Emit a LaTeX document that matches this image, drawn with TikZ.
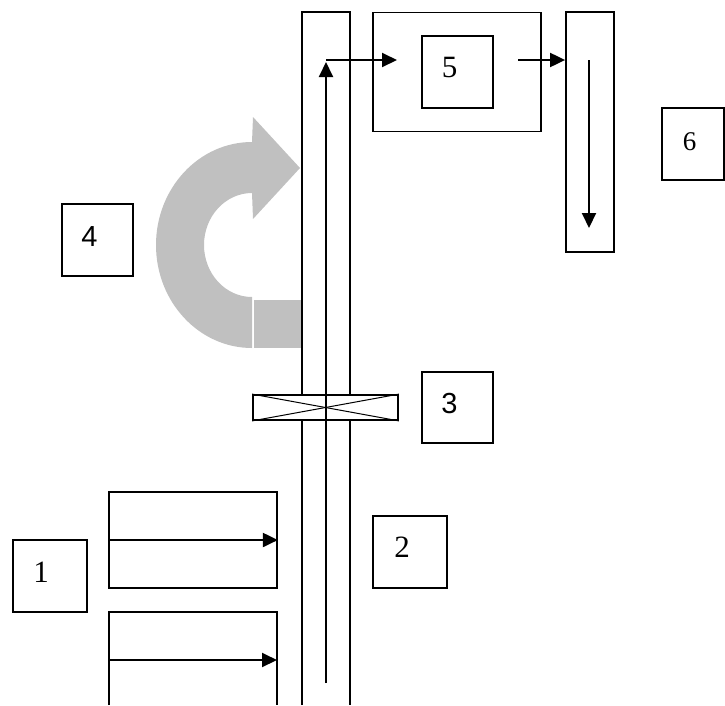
\documentclass[tikz,border=0pt]{standalone}
\usepackage{fontspec}
\setmainfont{Liberation Serif}
\newfontfamily\arialfont{Liberation Sans}
\usetikzlibrary{arrows.meta}
\definecolor{flowgray}{HTML}{C0C0C0}
\begin{document}
\begin{tikzpicture}[x=1pt, y=-1pt,
  line width=1.8pt,
  box/.style={draw, rectangle, inner sep=0pt, minimum width=#1},
  box/.default=72pt,
  lbl/.style={anchor=base, inner sep=0pt, font=\fontsize{31}{31}\selectfont},
  lblsans/.style={anchor=base, inner sep=0pt, font=\arialfont\fontsize{29}{29}\selectfont},
  arr/.style={line width=2pt, -{Triangle[length=15pt,width=14pt]}},
]
\useasboundingbox (0,0) rectangle (725,705);

% gray bent arrow feeding the pipe
\fill[flowgray] (252,348) arc[start angle=90, end angle=270, x radius=96, y radius=103]
  -- (253,117) -- (300,168) -- (253,219) -- (252,193)
  arc[start angle=270, end angle=90, x radius=48, y radius=52] -- cycle;
\fill[flowgray] (254,300) rectangle (302,348);

% main vertical pipe (open at the bottom)
\draw (302,705) -- (302,12) -- (350,12) -- (350,705);

% valve across the pipe
\node[draw, fill=white, inner sep=0pt, minimum width=145pt, minimum height=25pt] (valve) at (325.5,407.5) {};
\draw[line width=1pt] (valve.north west) -- (valve.south east);
\draw[line width=1pt] (valve.south west) -- (valve.north east);

% unit 5 and the downstream column
\node[box, minimum width=168pt, minimum height=119pt] (unit5) at (457,72) {};
\node[box, minimum width=71pt, minimum height=72pt] (b5) at (457.5,72) {};
\node[lbl] (l5) at (449.5,77) {5};
\node[box, minimum width=48pt, minimum height=240pt] (col6) at (590,132) {};

% feed channels on the left
\node[box, minimum width=168pt, minimum height=96pt] (feedA) at (193,540) {};
\draw (109,705) -- (109,612) -- (277,612) -- (277,705);
\coordinate (feedBin) at (109,660);
\coordinate (feedBout) at (277,660);

% numbered label boxes
\node[box=74pt, minimum height=72pt] (b1) at (50,576) {};
\node[lbl] (l1) at (41,582) {1};
\node[box=74pt, minimum height=72pt] (b2) at (410,552) {};
\node[lbl] (l2) at (402,557) {2};
\node[box=71pt, minimum height=71pt] (b3) at (457.5,407.5) {};
\node[lblsans] (l3) at (449.5,413) {3};
\node[box=71pt, minimum height=72pt] (b4) at (97.5,240) {};
\node[lblsans] (l4) at (89.5,246) {4};
\node[box=62pt, minimum height=72pt] (b6) at (693,144) {};
\node[lbl, font=\fontsize{27}{27}\selectfont] (l6) at (689.5,150) {6};

% flow arrows
\coordinate (pipeIn) at (326,683);
\coordinate (pipeTop) at (326,60);
\coordinate (toUnit5) at (397,60);
\coordinate (fromUnit5) at (518,60);
\coordinate (colTop) at (589,60);
\coordinate (colBot) at (589,228);
\draw[arr] (pipeIn) -- (326,62);
\draw[arr] (pipeTop) -- (toUnit5);
\draw[arr] (fromUnit5) -- (fromUnit5 -| col6.west);
\draw[arr] (colTop) -- (colBot);
\draw[arr] (feedA.west) -- (feedA.east);
\draw[arr] (feedBin) -- (feedBout);
\end{tikzpicture}
\end{document}
